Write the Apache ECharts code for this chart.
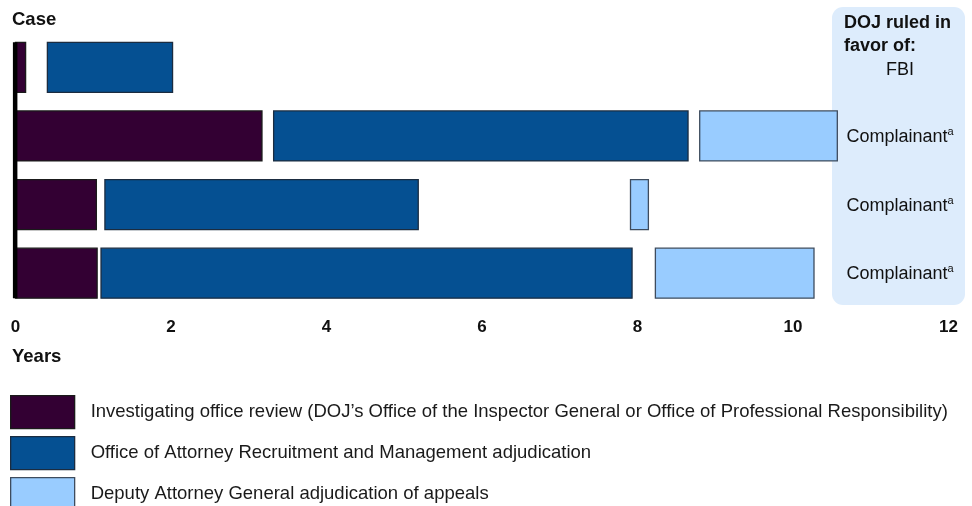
<!DOCTYPE html>
<html>
<head>
<meta charset="utf-8">
<script src="https://cdn.jsdelivr.net/npm/echarts@6/dist/echarts.min.js"></script>
<style>
  html, body { margin: 0; padding: 0; background: #fff; }
  #chart { width: 972px; height: 506px; }
</style>
</head>
<body>
<div id="chart"></div>
<script>
// cases, top to bottom
const cases = ['1', '2', '3', '4'];
// years from start, per case (null = no such phase)
const reviewStart = [0, 0, 0, 0];
const reviewEnd = [0.13, 3.17, 1.04, 1.05];
const oarmStart = [0.41, 3.32, 1.15, 1.10];
const oarmEnd = [2.02, 8.65, 5.18, 7.93];
const dagStart = [null, 8.80, 7.91, 8.23];
const dagEnd = [null, 10.57, 8.14, 10.27];
const rulings = ['FBI', 'Complainant', 'Complainant', 'Complainant'];
const rulingNote = ['', 'a', 'a', 'a'];

const phaseNames = [
  'Investigating office review (DOJ\u2019s Office of the Inspector General or Office of Professional Responsibility)',
  'Office of Attorney Recruitment and Management adjudication',
  'Deputy Attorney General adjudication of appeals'
];
const phaseColors = ['#330033', '#055092', '#99CCFF'];
const phaseBorders = ['#1a1a1a', '#1b2c40', '#3e4c5e'];

const FONT = "'Liberation Sans', Arial, sans-serif";
const BAR_RATIO = 0.729;

function spans(starts, ends) {
  const out = [];
  for (let i = 0; i < cases.length; i++) {
    if (starts[i] != null && ends[i] != null) out.push([starts[i], ends[i], i]);
  }
  return out;
}

function renderSpan(params, api) {
  const s = api.coord([api.value(0), api.value(2)]);
  const e = api.coord([api.value(1), api.value(2)]);
  const h = api.size([0, 1])[1] * BAR_RATIO;
  return {
    type: 'rect',
    shape: { x: s[0], y: s[1] - h / 2, width: e[0] - s[0], height: h },
    style: api.style()
  };
}

function phaseSeries(idx, starts, ends) {
  return {
    name: phaseNames[idx],
    type: 'custom',
    z: 3,
    renderItem: renderSpan,
    encode: { x: [0, 1], y: 2 },
    itemStyle: { color: phaseColors[idx], borderColor: phaseBorders[idx], borderWidth: 1.3 },
    data: spans(starts, ends)
  };
}

// one legend per phase so the rows never wrap into columns
const legends = phaseNames.map((n, i) => ({
  orient: 'vertical',
  left: 10,
  top: 395 + i * 41,
  padding: 0,
  itemWidth: 64,
  itemHeight: 33,
  icon: 'rect',
  selectedMode: false,
  textStyle: { fontSize: 18.5, color: '#1a1a1a', fontFamily: FONT, padding: [0, 0, 0, 11] },
  data: [{
    name: n,
    itemStyle: { color: phaseColors[i], borderColor: phaseBorders[i], borderWidth: 1.3 }
  }]
}));

const chart = echarts.init(document.getElementById('chart'), null, { renderer: 'canvas' });

const option = {
  animation: false,
  backgroundColor: '#fff',
  textStyle: { fontFamily: FONT },
  grid: { left: 15.5, right: 23.5, top: 33, height: 274.5, containLabel: false },
  xAxis: {
    type: 'value',
    min: 0,
    max: 12,
    interval: 2,
    axisLine: { show: false },
    axisTick: { show: false },
    splitLine: { show: false },
    axisLabel: {
      margin: 11,
      fontSize: 17,
      fontWeight: 'bold',
      color: '#111',
      fontFamily: "'Liberation Sans Narrow', 'Liberation Sans', Arial, sans-serif",
      showMinLabel: true,
      showMaxLabel: true
    }
  },
  yAxis: {
    type: 'category',
    data: cases,
    inverse: true,
    axisLine: { show: false },
    axisTick: { show: false },
    axisLabel: { show: false },
    splitLine: { show: false }
  },
  legend: legends,
  graphic: [
    {
      type: 'rect',
      z: 0,
      shape: { x: 832, y: 7, width: 133, height: 298, r: 11 },
      style: { fill: '#DDECFC' }
    },
    {
      type: 'text', z: 5, left: 12, top: 10,
      style: { text: 'Case', font: 'bold 18.5px ' + FONT, fill: '#111' }
    },
    {
      type: 'text', z: 5, left: 12, top: 347,
      style: { text: 'Years', font: 'bold 18.5px ' + FONT, fill: '#111' }
    },
    {
      type: 'text', z: 5, left: 844, top: 12,
      style: { text: 'DOJ ruled in\nfavor of:', font: 'bold 18px ' + FONT, fill: '#111', lineHeight: 23 }
    }
  ],
  series: [
    phaseSeries(0, reviewStart, reviewEnd),
    phaseSeries(1, oarmStart, oarmEnd),
    phaseSeries(2, dagStart, dagEnd),
    {
      // thick axis line at zero, spanning the bars
      type: 'custom',
      z: 4,
      silent: true,
      renderItem: function (params, api) {
        const h = api.size([0, 1])[1] * BAR_RATIO;
        const top = api.coord([0, 0]);
        const bot = api.coord([0, cases.length - 1]);
        return {
          type: 'rect',
          shape: { x: top[0] - 2.6, y: top[1] - h / 2, width: 4.5, height: bot[1] - top[1] + h },
          style: { fill: '#000' }
        };
      },
      encode: { x: 0, y: 1 },
      data: [[0, 0]]
    },
    {
      // ruling text per case in the side panel
      type: 'custom',
      z: 5,
      silent: true,
      renderItem: function (params, api) {
        const i = api.value(0);
        const c = api.coord([0, i]);
        const first = i === 0;
        return {
          type: 'text',
          x: 900,
          y: first ? 70 : c[1] + 1,
          style: {
            text: rulings[i] + (rulingNote[i] ? '{sup|' + rulingNote[i] + '}' : ''),
            font: '18px ' + FONT,
            fill: '#111',
            align: 'center',
            verticalAlign: 'middle',
            rich: {
              sup: { fontSize: 11, fontFamily: FONT, fill: '#111', padding: [0, 0, 10, 0] }
            }
          }
        };
      },
      encode: { y: 0 },
      data: cases.map((c, i) => [i])
    }
  ]
};

chart.setOption(option);
</script>
</body>
</html>
